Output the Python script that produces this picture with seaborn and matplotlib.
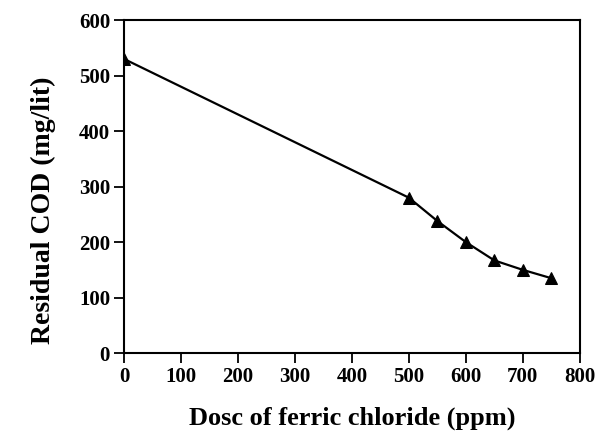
import matplotlib
matplotlib.use("Agg")
import matplotlib.pyplot as plt
import seaborn as sns
import pandas as pd

dose = [0, 500, 550, 600, 650, 700, 750]
cod = [530, 280, 238, 200, 167, 150, 135]
x_ticks = [0, 100, 200, 300, 400, 500, 600, 700, 800]
y_ticks = [0, 100, 200, 300, 400, 500, 600]

sns.set_theme(style="ticks")
plt.rcParams['font.family'] = ['Liberation Serif', 'DejaVu Serif']
plt.rcParams['font.weight'] = 'bold'

df = pd.DataFrame({"dose": dose, "cod": cod})

fig = plt.figure(figsize=(6.03, 4.36), dpi=100)
ax = fig.add_axes([0.2056, 0.190, 0.756, 0.764])
sns.lineplot(data=df, x="dose", y="cod", ax=ax, color="black", linewidth=1.6,
             marker="^", markersize=8, markeredgecolor="black", markerfacecolor="black")
ax.set_xlim(0, 800)
ax.set_ylim(0, 600)
ax.set_xticks(x_ticks)
ax.set_yticks(y_ticks)
ax.tick_params(direction="out", length=7, width=1.3, labelsize=15, colors="black", pad=3)
for lab in ax.get_xticklabels() + ax.get_yticklabels():
    lab.set_fontweight("bold")
for s in ax.spines.values():
    s.set_visible(True)
    s.set_linewidth(1.5)
    s.set_color("black")
ax.set_xlabel("Dosc of ferric chloride (ppm)", fontsize=19, fontweight="bold",
              labelpad=14, color="black")
ax.set_ylabel("Residual COD (mg/lit)", fontsize=20, fontweight="bold", color="black")
ax.yaxis.set_label_coords(-0.15, 0.43)
fig.savefig("out.png", dpi=100)
